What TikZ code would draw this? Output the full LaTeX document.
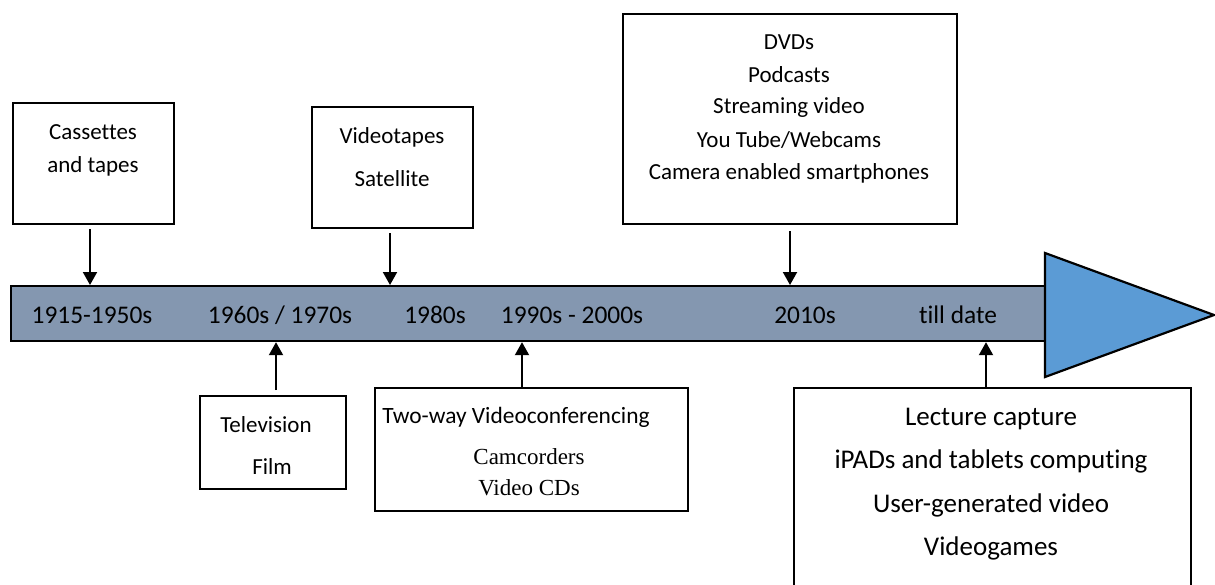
\documentclass[tikz,border=0pt]{standalone}
\usepackage{fontspec}
\setmainfont{Carlito}[Ligatures=NoCommon]
\newfontfamily\timesfont{Liberation Serif}
\usetikzlibrary{arrows.meta}
\begin{document}
\begin{tikzpicture}[x=0.5pt,y=-0.5pt]
    \tikzstyle{box}=[draw=black, line width=1.1pt, fill=white, inner sep=0pt]
    \tikzstyle{bar}=[draw=black, line width=1.1pt, fill={rgb,255:red,132;green,151;blue,176}]
    \tikzstyle{head}=[draw=black, line width=1.1pt, fill={rgb,255:red,91;green,155;blue,213}]
    \tikzstyle{year}=[anchor=base, inner sep=0pt, font=\fontsize{12.7}{15}\selectfont]
    \tikzstyle{item}=[anchor=base, inner sep=0pt, font=\fontsize{11.5}{14}\selectfont]
    \tikzstyle{pointer}=[line width=1pt, -{Triangle[width=7pt,length=6.5pt]}]
    \clip (0,0) rectangle (1215,584);

    \node[bar, minimum width=517.5pt, minimum height=27.5pt, anchor=north west] (bar) at (10,285) {};
    \draw[head] (1045,253) -- (1214,315) -- (1045,377) -- cycle;

    \node[year] (y1) at (92,323)  {1915-1950s};
    \node[year] (y2) at (280,323) {1960s / 1970s};
    \node[year] (y3) at (435,323) {1980s};
    \node[year] (y4) at (572,323) {1990s - 2000s};
    \node[year] (y5) at (805,323) {2010s};
    \node[year] (y6) at (958,323) {till date};

    \node[box, minimum width=80.5pt, minimum height=60.5pt, anchor=north west] (cassettes) at (12,102) {};
    \node[item] (cas1) at (93,139) {Cassettes};
    \node[item] (cas2) at (93,172) {and tapes};

    \node[box, minimum width=80.5pt, minimum height=60.5pt, anchor=north west] (tapes) at (311,106) {};
    \node[item] (tap1) at (392,143) {Videotapes};
    \node[item] (tap2) at (392,186) {Satellite};

    \node[box, minimum width=167pt, minimum height=105pt, anchor=north west] (dvds) at (622,13) {};
    \node[item] (dvd1) at (789,49)  {DVDs};
    \node[item] (dvd2) at (789,82)  {Podcasts};
    \node[item] (dvd3) at (789,113) {Streaming video};
    \node[item] (dvd4) at (789,147) {You Tube/Webcams};
    \node[item] (dvd5) at (789,179) {Camera enabled smartphones};

    \node[box, minimum width=73pt, minimum height=46.5pt, anchor=north west] (tv) at (199,395) {};
    \node[item] (tv1) at (266,432) {Television};
    \node[item] (tv2) at (272,474) {Film};

    \node[box, minimum width=156.5pt, minimum height=61.5pt, anchor=north west] (conf) at (374,387) {};
    \node[item, font=\fontsize{11.7}{14}\selectfont] (conf1) at (516,423) {Two-way Videoconferencing};
    \node[item, font=\timesfont\fontsize{11.5}{14}\selectfont] (conf2) at (529,464) {Camcorders};
    \node[item, font=\timesfont\fontsize{11.5}{14}\selectfont] (conf3) at (529,495) {Video CDs};

    \node[box, minimum width=198.5pt, minimum height=110pt, anchor=north west] (lecture) at (793,387) {};
    \tikzstyle{big}=[item, font=\fontsize{13.5}{16}\selectfont]
    \node[big] (lec1) at (991,425) {Lecture capture};
    \node[big] (lec2) at (991,468) {iPADs and tablets computing};
    \node[big] (lec3) at (991,512) {User-generated video};
    \node[big] (lec4) at (991,555) {Videogames};

    \draw[pointer] ([yshift=-2pt]cassettes.south -| 90,0) -- (90,0 |- bar.north);
    \draw[pointer] ([yshift=-2pt]tapes.south -| 390,0) -- (390,0 |- bar.north);
    \draw[pointer] ([yshift=-3pt]dvds.south -| 790,0) -- (790,0 |- bar.north);
    \draw[pointer] ([yshift=2.5pt]tv.north -| 276,0) -- (276,0 |- bar.south);
    \draw[pointer] (conf.north -| 522,0) -- (522,0 |- bar.south);
    \draw[pointer] (lecture.north -| 986,0) -- (986,0 |- bar.south);
\end{tikzpicture}
\end{document}
